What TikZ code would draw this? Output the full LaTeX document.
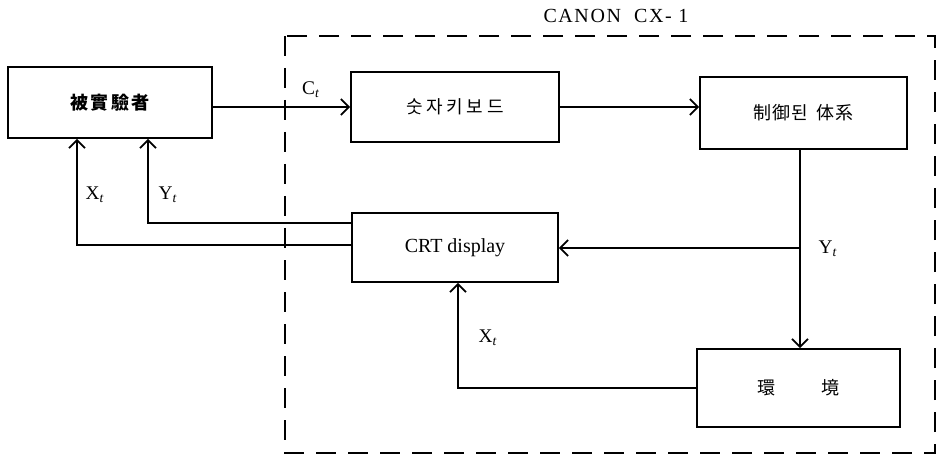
\documentclass[tikz,border=0pt]{standalone}
\usepackage{fontspec}
\setmainfont{Liberation Serif}
\newfontfamily\kr{Noto Sans CJK KR}
\usetikzlibrary{arrows.meta}
\begin{document}
\begin{tikzpicture}[x=0.75pt,y=-0.75pt,
  box/.style={draw,line width=1.3pt,inner sep=0pt,font=\kr\fontsize{13.5}{15}\selectfont},
  ln/.style={line width=1.2pt},
  arr/.style={line width=1.2pt,-{Straight Barb[length=6pt,width=12pt,line width=1.3pt]}},
  lbl/.style={font=\fontsize{14.5}{16}\selectfont,inner sep=0pt},
  frame/.style={line width=1.2pt,dash pattern=on 15pt off 9pt}]
\useasboundingbox (0,0) rectangle (945,463);
\node[box,minimum width=153pt,minimum height=53.25pt] (subj) at (110,102.5) {\bfseries\addfontfeature{LetterSpace=14}被實驗者};
\node[box,minimum width=156pt,minimum height=52.5pt] (kbd) at (455,107) {\addfontfeature{LetterSpace=20}숫자키보드};
\node[box,minimum width=155.25pt,minimum height=54pt] (ctrl) at (803.5,113) {\addfontfeature{LetterSpace=6}制御된\hspace{6pt}体系};
\node[box,minimum width=154.5pt,minimum height=51.75pt,font=\fontsize{15}{17}\selectfont] (crt) at (455,247.5) {CRT display};
\node[box,minimum width=152.25pt,minimum height=58.5pt] (env) at (798.5,388) {環\hspace{34pt}境};
\node[lbl,font=\fontsize{15}{17}\selectfont] (canon) at (616,16) {\addfontfeature{LetterSpace=8}CANON\ \ CX- 1};
\draw[frame] (285,36) rectangle (935,453);
\coordinate (J) at (800,248);
\coordinate (XC) at (458,388);
\coordinate (YL) at (148,223);
\coordinate (XL) at (77,245);
\draw[arr] (subj.east |- kbd.west) -- (kbd.west);
\draw[arr] (kbd.east) -- (kbd.east -| ctrl.west);
\draw[ln] (ctrl.south -| J) -- (J);
\draw[arr] (J) -- (J |- env.north);
\draw[arr] (J) -- (J -| crt.east);
\draw[arr] (env.west) -- (XC) -- (XC |- crt.south);
\draw[arr] (crt.west |- YL) -- (YL) -- (YL |- subj.south);
\draw[arr] (crt.west |- XL) -- (XL) -- (XL |- subj.south);
\node[lbl] (lc) at (311,90) {C\textsubscript{\textit{t}}};
\node[lbl] (lx1) at (95,195) {X\textsubscript{\textit{t}}};
\node[lbl] (ly1) at (168,195) {Y\textsubscript{\textit{t}}};
\node[lbl] (ly2) at (828,249) {Y\textsubscript{\textit{t}}};
\node[lbl] (lx2) at (488,338) {X\textsubscript{\textit{t}}};
\end{tikzpicture}
\end{document}
